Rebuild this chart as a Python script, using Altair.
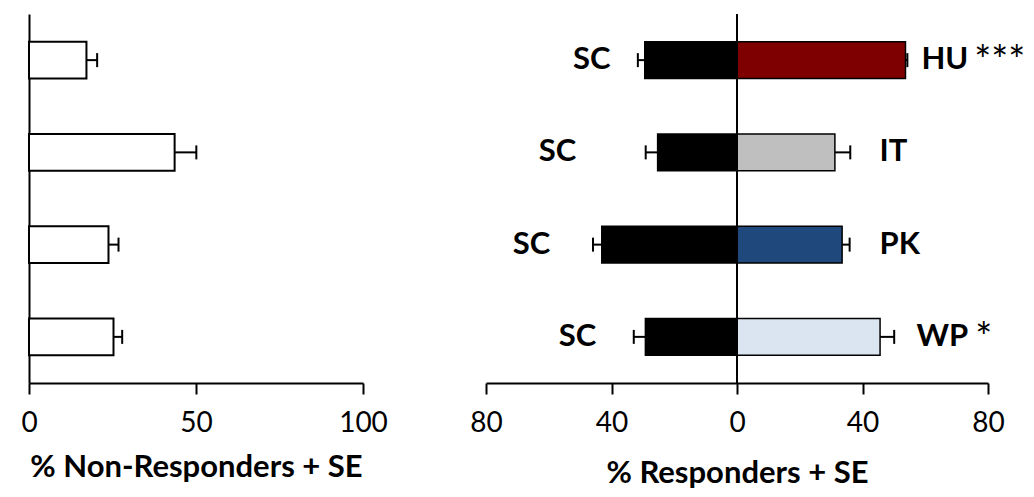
import altair as alt
import pandas as pd

# ---- data ----
groups = ["HU", "IT", "PK", "WP"]
nonresp = [17.2, 43.6, 23.8, 25.3]          # % non-responders
nonresp_se = [3.2, 6.5, 3.0, 2.6]
sc_resp = [29.4, 25.3, 43.1, 29.2]          # % responders, SC (control)
sc_se = [2.2, 3.8, 2.8, 3.7]
trt_resp = [53.7, 31.2, 33.5, 45.6]         # % responders, treatment
trt_se = [0.6, 4.9, 2.4, 4.5]
stars = ["***", "", "", "*"]
control_name = "SC"
bar_colors = ["#7f0000", "#bfbfbf", "#1f497d", "#dbe5f1"]

# annotation anchors (in axis units)
sc_label_x = [-46.3, -57.2, -65.5, -50.8]
trt_label_x = [58.8, 45.4, 45.4, 57.2]
star_label_x = [75.6, 0, 0, 75.9]

left_df = pd.DataFrame({
    "group": groups,
    "v": nonresp,
    "hi": [a + b for a, b in zip(nonresp, nonresp_se)],
})

right_df = pd.DataFrame({
    "group": groups,
    "zero": [0] * len(groups),
    "sc_neg": [-a for a in sc_resp],
    "sc_err": [-(a + b) for a, b in zip(sc_resp, sc_se)],
    "trt": trt_resp,
    "trt_hi": [a + b for a, b in zip(trt_resp, trt_se)],
    "sc_lab": sc_label_x,
    "trt_lab": trt_label_x,
    "star_x": star_label_x,
    "stars": stars,
    "ctrl": [control_name] * len(groups),
})

FONT = "Lato"
yscale = alt.Scale(domain=groups, paddingInner=0.6, paddingOuter=0.3)

# ---------------- left panel ----------------
yl = alt.Y("group:N", sort=groups, scale=yscale,
           axis=alt.Axis(labels=False, ticks=False, title=None, domain=True,
                         domainColor="black", domainWidth=2))
xl_scale = alt.Scale(domain=[0, 100], nice=False, zero=True)
xl_axis = alt.Axis(values=[0, 50, 100], title="% Non-Responders + SE",
                   titlePadding=15, labelPadding=15)

bl = alt.Chart(left_df)
bars_l = bl.mark_bar(fill="white", stroke="black", strokeWidth=2).encode(
    x=alt.X("v:Q", scale=xl_scale, axis=xl_axis), y=yl)
err_l = bl.mark_rule(color="black", strokeWidth=2).encode(
    x=alt.X("v:Q", scale=xl_scale, axis=xl_axis), x2="hi:Q", y=yl)
cap_l = bl.mark_tick(color="black", thickness=2, size=14, opacity=1).encode(
    x=alt.X("hi:Q", scale=xl_scale, axis=xl_axis), y=yl)
left = alt.layer(bars_l, err_l, cap_l).properties(width=334, height=369)

# ---------------- right panel ----------------
yr = alt.Y("group:N", sort=groups, scale=yscale, axis=None)
xr_scale = alt.Scale(domain=[-80, 80], nice=False)
xr_axis = alt.Axis(values=[-80, -40, 0, 40, 80], labelExpr="abs(datum.value)",
                   title="% Responders + SE", titlePadding=21, labelPadding=15)


def X(field):
    return alt.X(field, scale=xr_scale, axis=xr_axis)


br = alt.Chart(right_df)
sc_bars = br.mark_bar(fill="black", stroke="black", strokeWidth=1.5).encode(
    x=X("sc_neg:Q"), x2="zero:Q", y=yr)
trt_bars = br.mark_bar(stroke="black", strokeWidth=1.5).encode(
    x=X("zero:Q"), x2="trt:Q", y=yr,
    fill=alt.Fill("group:N", scale=alt.Scale(domain=groups, range=bar_colors), legend=None))
sc_err = br.mark_rule(color="black", strokeWidth=2).encode(
    x=X("sc_neg:Q"), x2="sc_err:Q", y=yr)
sc_cap = br.mark_tick(color="black", thickness=2, size=14, opacity=1).encode(
    x=X("sc_err:Q"), y=yr)
trt_err = br.mark_rule(color="black", strokeWidth=2).encode(
    x=X("trt:Q"), x2="trt_hi:Q", y=yr)
trt_cap = br.mark_tick(color="black", thickness=2, size=14, opacity=1).encode(
    x=X("trt_hi:Q"), y=yr)
center = alt.Chart(pd.DataFrame({"zero": [0]})).mark_rule(
    color="black", strokeWidth=2).encode(x=X("zero:Q"))
sc_text = br.mark_text(font=FONT, fontWeight="bold", fontSize=31, align="center",
                       baseline="middle", color="black").encode(
    x=X("sc_lab:Q"), y=yr, text="ctrl:N")
trt_text = br.mark_text(font=FONT, fontWeight="bold", fontSize=31, align="left",
                        baseline="middle", color="black").encode(
    x=X("trt_lab:Q"), y=yr, text="group:N")
star_text = br.transform_filter("datum.stars != ''").mark_text(
    font=FONT, fontWeight="normal", fontSize=40, align="left", baseline="middle",
    color="black", dy=3).encode(x=X("star_x:Q"), y=yr, text="stars:N")

right = alt.layer(sc_bars, trt_bars, center, sc_err, sc_cap, trt_err, trt_cap,
                  sc_text, trt_text, star_text).properties(width=502, height=369)

chart = alt.hconcat(left, right, spacing=123, bounds="flush").properties(
    padding={"left": 12, "top": 5, "right": 0, "bottom": 0}
).configure_view(stroke=None).configure_axis(
    labelFont=FONT, labelFontSize=28, labelColor="black", labelFlush=False,
    titleFont=FONT, titleFontSize=31, titleFontWeight="bold", titleColor="black",
    domainColor="black", domainWidth=2, tickColor="black", tickWidth=2,
    tickSize=11, grid=False,
)

chart.save("out.html", embed_options={"renderer": "svg", "actions": False})
